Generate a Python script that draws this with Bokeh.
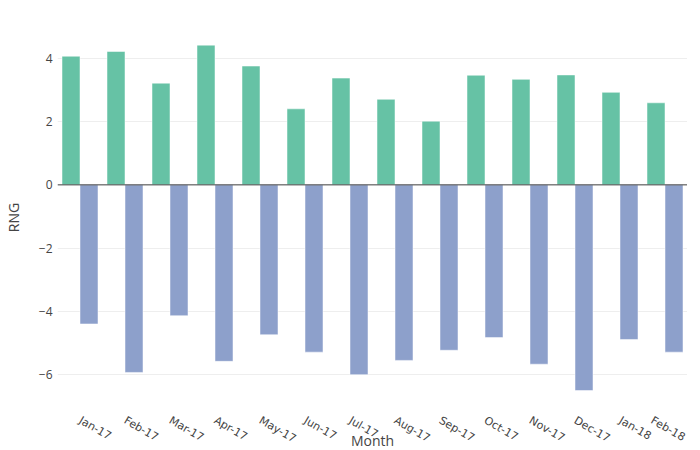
from bokeh.plotting import figure
from bokeh.models import FactorRange, Range1d, FixedTicker, Span
from bokeh.transform import dodge
from bokeh.embed import file_html
from bokeh.resources import INLINE
import math

months = ["Jan-17", "Feb-17", "Mar-17", "Apr-17", "May-17", "Jun-17", "Jul-17",
          "Aug-17", "Sep-17", "Oct-17", "Nov-17", "Dec-17", "Jan-18", "Feb-18"]
pos_vals = [4.06, 4.21, 3.21, 4.41, 3.75, 2.40, 3.37, 2.70, 2.01, 3.46, 3.33, 3.47, 2.92, 2.59]
neg_vals = [-4.39, -5.92, -4.13, -5.57, -4.73, -5.28, -5.99, -5.54, -5.22, -4.82, -5.66, -6.49, -4.88, -5.28]
y_ticks = [-6, -4, -2, 0, 2, 4]

p = figure(x_range=FactorRange(*months, range_padding=0),
           y_range=Range1d(-7.09, 5.03),
           frame_width=630, frame_height=384, output_backend="svg", toolbar_location=None,
           min_border_left=55, min_border_right=0, min_border_top=25, min_border_bottom=10)
p.outline_line_color = None
p.background_fill_color = "white"

src = dict(month=months, pos=pos_vals, neg=neg_vals)
p.vbar(x=dodge("month", -0.2, range=p.x_range), top="pos", bottom=0, width=0.4, source=src,
       fill_color="#66c2a5", line_color="white", line_width=0.5)
p.vbar(x=dodge("month", 0.2, range=p.x_range), top="neg", bottom=0, width=0.4, source=src,
       fill_color="#8da0cb", line_color="white", line_width=0.5)

p.add_layout(Span(location=0, dimension="width", line_color="#444444", line_width=1))

p.xgrid.grid_line_color = None
p.ygrid.grid_line_color = "#eeeeee"
p.ygrid.grid_line_width = 1

p.yaxis.ticker = FixedTicker(ticks=y_ticks)
p.yaxis.major_label_overrides = {float(t): (str(t).replace("-", "\u2212")) for t in y_ticks}
p.yaxis.axis_line_color = None
p.yaxis.major_tick_line_color = None
p.yaxis.minor_tick_line_color = None
p.yaxis.major_label_standoff = -1
p.yaxis.major_label_text_font = "Open Sans"
p.yaxis.major_label_text_font_size = "12px"
p.yaxis.major_label_text_color = "#444444"
p.yaxis.axis_label = "RNG"
p.yaxis.axis_label_text_font = "Open Sans"
p.yaxis.axis_label_text_font_size = "14px"
p.yaxis.axis_label_text_font_style = "normal"
p.yaxis.axis_label_text_color = "#444444"
p.yaxis.axis_label_standoff = 13

p.xaxis.axis_line_color = None
p.xaxis.major_tick_line_color = None
p.xaxis.minor_tick_line_color = None
p.xaxis.major_label_orientation = -math.pi / 6
p.xaxis.major_label_standoff = 4
p.xaxis.major_label_text_font = "DejaVu Sans"
p.xaxis.major_label_text_font_size = "11px"
p.xaxis.major_label_text_color = "#444444"
p.xaxis.axis_label = "Month"
p.xaxis.axis_label_text_font = "Open Sans"
p.xaxis.axis_label_text_font_size = "14px"
p.xaxis.axis_label_text_font_style = "normal"
p.xaxis.axis_label_text_color = "#444444"
p.xaxis.axis_label_standoff = -23

open("out.html", "w").write(file_html(p, INLINE))
